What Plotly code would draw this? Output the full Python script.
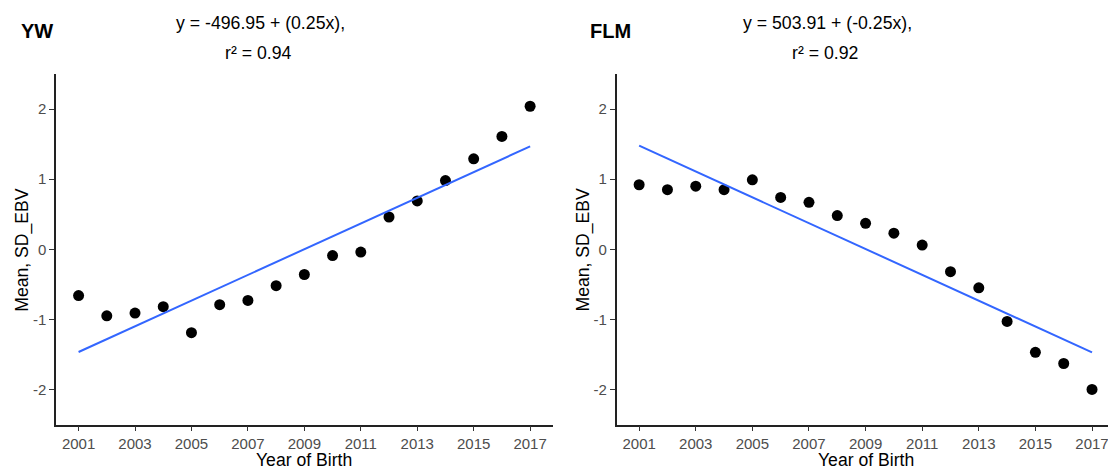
import numpy as np
import plotly.graph_objects as go

years = list(range(2001, 2018))
yw_values = [-0.66, -0.95, -0.91, -0.82, -1.19, -0.79, -0.73, -0.52, -0.36,
             -0.09, -0.04, 0.46, 0.69, 0.98, 1.29, 1.61, 2.04]
flm_values = [0.92, 0.85, 0.90, 0.85, 0.99, 0.74, 0.67, 0.48, 0.37,
              0.23, 0.06, -0.32, -0.55, -1.03, -1.47, -1.63, -2.00]
panel_titles = ["YW", "FLM"]
equations = ["y = -496.95 + (0.25x),", "y = 503.91 + (-0.25x),"]
r2_labels = ["r² = 0.94", "r² = 0.92"]
x_ticks = [2001, 2003, 2005, 2007, 2009, 2011, 2013, 2015, 2017]
y_ticks = [-2, -1, 0, 1, 2]

W, H = 1108, 468
def px(x):
    return x / W
def py(y):
    return (H - y) / H

FONT = "Liberation Sans, Arial, sans-serif"
fig = go.Figure()

series = [yw_values, flm_values]
for i, vals in enumerate(series):
    xa = "x" if i == 0 else "x2"
    ya = "y" if i == 0 else "y2"
    coef = np.polyfit(years, vals, 1)
    fit = np.polyval(coef, years)
    fig.add_trace(go.Scatter(x=years, y=vals, mode="markers",
                             marker=dict(color="black", size=11),
                             xaxis=xa, yaxis=ya, showlegend=False, cliponaxis=False))
    fig.add_trace(go.Scatter(x=years, y=fit, mode="lines",
                             line=dict(color="#3366FF", width=2),
                             xaxis=xa, yaxis=ya, showlegend=False))

axis_common = dict(showgrid=False, zeroline=False, showline=True, automargin=False,
                   linecolor="#222222", linewidth=1.5, ticks="outside",
                   ticklen=5, tickwidth=1.2, tickcolor="#333333",
                   ticklabeloverflow="allow",
                   tickfont=dict(family=FONT, size=15, color="#4D4D4D"))

y_text = [str(v) for v in y_ticks]
x_text = [str(v) for v in x_ticks]
y_dom = [py(424.5), py(74)]
fig.update_layout(
    width=W, height=H, margin=dict(l=0, r=0, t=0, b=0),
    plot_bgcolor="white", paper_bgcolor="white",
    xaxis=dict(domain=[px(56), px(552.7)], range=[2000.2, 2017.8],
               tickvals=x_ticks, ticktext=x_text, anchor="y", **axis_common),
    yaxis=dict(domain=y_dom, range=[-2.5, 2.5], tickvals=y_ticks, ticktext=y_text,
               anchor="x", **axis_common),
    xaxis2=dict(domain=[px(616.5), 1.0], range=[2000.2, 2017.565],
                tickvals=x_ticks, ticktext=x_text, anchor="y2", **axis_common),
    yaxis2=dict(domain=y_dom, range=[-2.5, 2.5], tickvals=y_ticks, ticktext=y_text,
                anchor="x2", **axis_common),
)

annots = []
title_x = [37, 610]
eq_x = [260, 827]
xtitle_x = [304, 865.5]
ytitle_x = [21.7, 582.5]
for i in range(2):
    annots.append(dict(text="<b>%s</b>" % panel_titles[i], x=px(title_x[i]), y=py(31),
                       xref="paper", yref="paper", showarrow=False,
                       xanchor="center", yanchor="middle",
                       font=dict(family=FONT, size=20, color="black")))
    annots.append(dict(text=equations[i], x=px(eq_x[i]), y=py(22.5),
                       xref="paper", yref="paper", showarrow=False,
                       xanchor="center", yanchor="middle",
                       font=dict(family=FONT, size=17.7, color="black")))
    annots.append(dict(text=r2_labels[i], x=px(eq_x[i] - 2), y=py(52.5),
                       xref="paper", yref="paper", showarrow=False,
                       xanchor="center", yanchor="middle",
                       font=dict(family=FONT, size=17.7, color="black")))
    annots.append(dict(text="Year of Birth", x=px(xtitle_x[i]), y=py(460),
                       xref="paper", yref="paper", showarrow=False,
                       xanchor="center", yanchor="middle",
                       font=dict(family=FONT, size=17.6, color="black")))
    annots.append(dict(text="Mean, SD_EBV", x=px(ytitle_x[i]), y=py(250),
                       xref="paper", yref="paper", showarrow=False, textangle=-90,
                       xanchor="center", yanchor="middle",
                       font=dict(family=FONT, size=17.6, color="black")))
fig.update_layout(annotations=annots)

fig.write_html("out.html", config={"displayModeBar": False},
               post_script="document.body.style.margin='0px';")
